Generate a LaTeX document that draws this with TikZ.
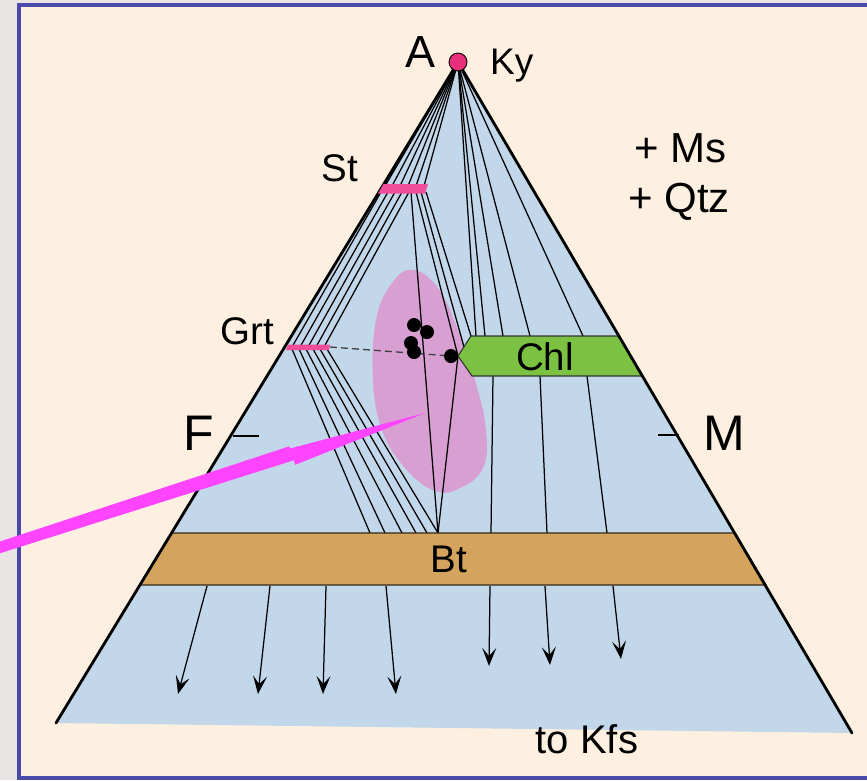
\documentclass[tikz,border=0pt]{standalone}
\usepackage{fontspec}
\setmainfont{Liberation Sans}
\usetikzlibrary{arrows.meta}
\definecolor{cream}{HTML}{FDF0E1}
\definecolor{greybg}{HTML}{E8E4E4}
\definecolor{framecol}{HTML}{4A4AAA}
\definecolor{triblue}{HTML}{C3D7EA}
\definecolor{tan}{HTML}{D4A45E}
\definecolor{chlgreen}{HTML}{7BC142}
\definecolor{blobpink}{HTML}{D8A0D2}
\definecolor{barpink}{HTML}{F04E9C}
\definecolor{kypink}{HTML}{E8307A}
\definecolor{arrowmag}{HTML}{FF44FF}
\begin{document}
\begin{tikzpicture}[x=1pt,y=-1pt,
  tie/.style={black, line width=1.25pt},
  kfsarrow/.style={black, line width=1.25pt, -{Stealth[length=18pt,width=14pt,inset=8pt]}},
  edge/.style={black, line width=2.8pt, line cap=round},
  lbl/.style={anchor=base, inner sep=0pt, font=\fontsize{38.5}{42}\selectfont},
  biglbl/.style={anchor=base, inner sep=0pt, font=\fontsize{50}{55}\selectfont},
  bar/.style={fill=barpink},
  dot/.style={fill=black, circle, inner sep=0pt, minimum size=14pt}]
\useasboundingbox (0,0) rectangle (867,780);
\fill[greybg] (0,0) rectangle (867,780);
\draw[framecol, line width=4pt, fill=cream] (19,5) rectangle (871,778);

% triangle
\coordinate (apex) at (458,62);
\coordinate (bl) at (56,723);
\coordinate (br) at (852,733);
\fill[triblue] (apex) -- (br) -- (bl) -- cycle;

% pink field
\fill[blobpink] plot[smooth cycle, tension=0.7] coordinates {(413,270) (438,288) (458,330) (475,380) (486,430) (483,468) (460,488) (435,491) (405,468) (382,430) (373,380) (376,320) (392,283)};

% named points
\coordinate (tip) at (458,356);
\coordinate (bt) at (438,533);
\foreach \i/\x in {1/385,2/392,3/400,4/408,5/416,6/424} \coordinate (stt\i) at (\x,186);
\foreach \i/\x in {1/476,2/485,3/503,4/530,5/583} \coordinate (chlt\i) at (\x,336);
\foreach \i/\x/\g in {1/381/292,2/388/300,3/395/308,4/402/316,5/409/324} {
  \coordinate (stb\i) at (\x,192);
  \coordinate (grtt\i) at (\g,347);
}
\coordinate (stbt) at (411,192);
\coordinate (stc1) at (416,192);
\coordinate (stc2) at (421,192);
\coordinate (stc3) at (426,192);
\coordinate (chls1) at (464,347);
\coordinate (chls2) at (471,336);
\foreach \i/\g/\b in {1/292/370,2/299/385,3/306/402,4/313/416,5/320/427,6/327/438} {
  \coordinate (grtb\i) at (\g,349);
  \coordinate (btg\i) at (\b,533);
}
\foreach \i/\c/\b in {1/493/491,2/540/547,3/587/607} {
  \coordinate (chlb\i) at (\c,376);
  \coordinate (btc\i) at (\b,533);
}

% tie lines
\foreach \i in {1,...,6} \draw[tie] (apex) -- (stt\i);
\foreach \i in {1,...,5} \draw[tie] (apex) -- (chlt\i);
\foreach \i in {1,...,5} \draw[tie] (stb\i) -- (grtt\i);
\draw[tie] (stbt) -- (bt);
\draw[tie] (stc1) -- (tip);
\draw[tie] (stc2) -- (chls1);
\draw[tie] (stc3) -- (chls2);
\draw[tie] (tip) -- (bt);
\foreach \i in {1,...,6} \draw[tie] (grtb\i) -- (btg\i);
\foreach \i in {1,2,3} \draw[tie] (chlb\i) -- (btc\i);

% Chl field
\draw[fill=chlgreen, draw=black!80, line width=1.1pt] (tip) -- (471,336) -- (619,336) -- (642,376) -- (472,376) -- cycle;
\node[lbl] (chl) at (545,370) {Chl};

% Bt band
\draw[fill=tan, draw=black!75!tan, line width=1.2pt] (172,533) -- (735,533) -- (766,585) -- (140,585) -- cycle;
\node[lbl] (btl) at (449,572) {Bt};

% triangle sides
\draw[edge] (bl) -- (apex) -- (br);

% arrows to Kfs
\foreach \i/\a/\b in {1/207/178,2/270/258,3/326/323,4/386/396} {
  \coordinate (ka\i) at (\a,586);
  \coordinate (kb\i) at (\b,694);
}
\foreach \i/\a/\b/\e in {5/490/489/666,6/545/550/665,7/613/621/659} {
  \coordinate (ka\i) at (\a,586);
  \coordinate (kb\i) at (\b,\e);
}
\foreach \i in {1,...,7} \draw[kfsarrow] (ka\i) -- (kb\i);

% phase bars
\fill[bar] (383.5,184) -- (428,184) -- (425,193.5) -- (378,193.5) -- cycle;
\fill[bar] (288,344.5) -- (330,344.5) -- (329,350) -- (286,350) -- cycle;

% dashed tie
\coordinate (grtend) at (330,347);
\node[dot] (d5) at (451,356) {};
\draw[black!75, line width=1.3pt, dash pattern=on 7pt off 4pt] (grtend) -- (d5);
\node[dot] (d1) at (414,325) {};
\node[dot] (d2) at (427,332) {};
\node[dot] (d3) at (411,343) {};
\node[dot] (d4) at (414,352) {};

% Ky
\node[circle, fill=kypink, draw=black, line width=0.9pt, minimum size=18pt, inner sep=0pt] (ky) at (apex) {};

% ticks
\coordinate (ft1) at (233,436);
\coordinate (ft2) at (259,436);
\coordinate (mt1) at (658,435);
\coordinate (mt2) at (679,435);
\draw[black, line width=1.4pt] (ft1) -- (ft2);
\draw[black, line width=1.4pt] (mt1) -- (mt2);

% magenta pointer
\fill[arrowmag] (-6.7,543.7) -- (289.3,446.3) -- (290,448.5) -- (425,413) -- (295.2,464.8) -- (293.7,460.3) -- (-3.3,554.3) -- cycle;

% labels
\node[biglbl, font=\fontsize{45}{50}\selectfont] (A) at (421,67) {A};
\node[lbl, font=\fontsize{37}{40}\selectfont, anchor=base west] (kyl) at (490,74) {Ky};
\node[lbl] (st) at (340,181) {St};
\node[lbl] (grt) at (247,344) {Grt};
\node[biglbl] (F) at (199,450) {F};
\node[biglbl] (M) at (724,450) {M};
\node[lbl, font=\fontsize{42}{46}\selectfont, anchor=base west] (ms) at (634,162) {+ Ms};
\node[lbl, font=\fontsize{42}{46}\selectfont, anchor=base west] (qtz) at (628,212) {+ Qtz};
\node[lbl, font=\fontsize{40}{44}\selectfont] (kfs) at (587,753) {to Kfs};
\end{tikzpicture}
\end{document}
